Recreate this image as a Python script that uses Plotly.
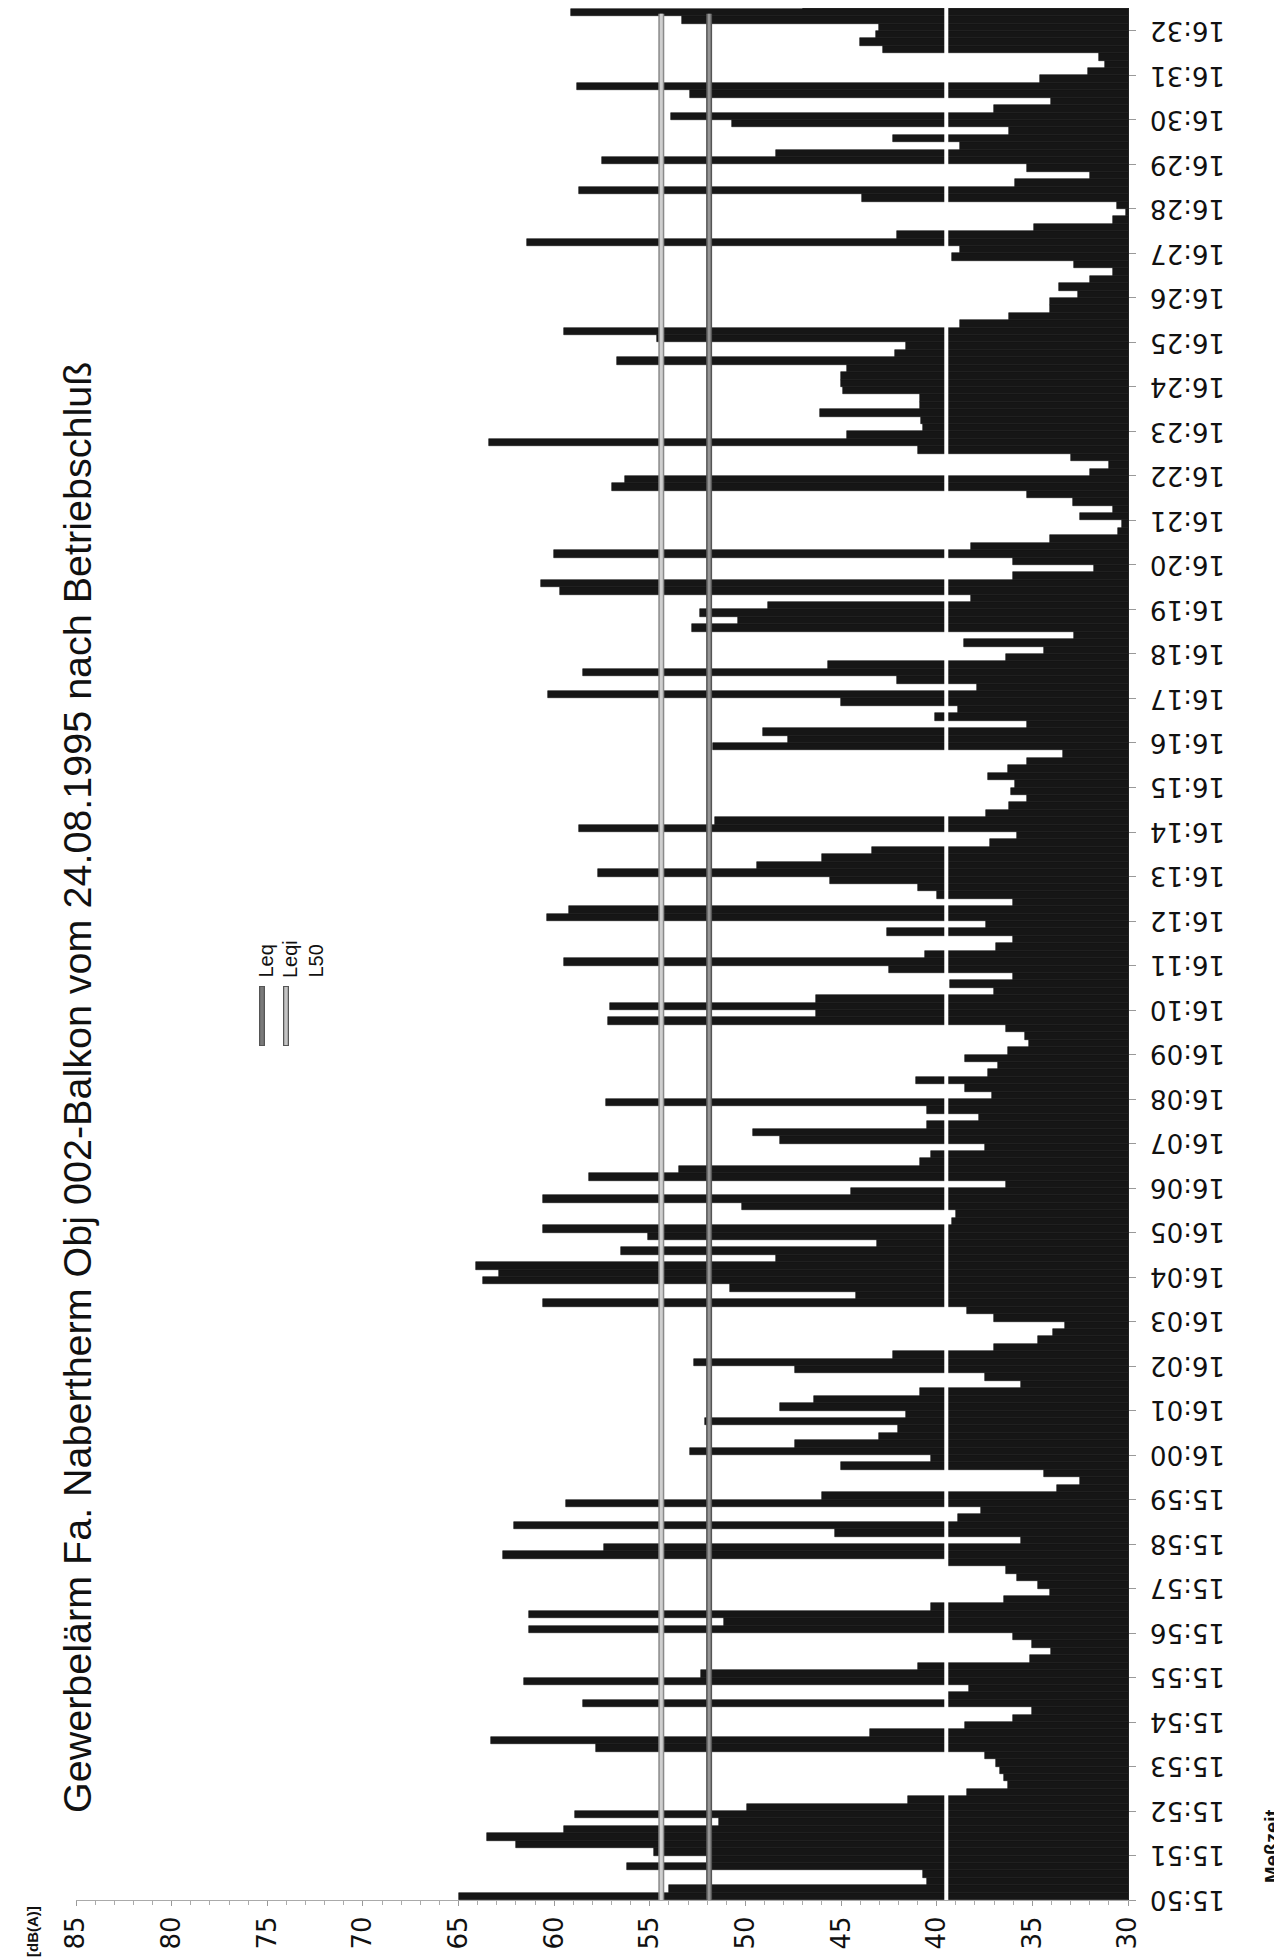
import plotly.graph_objects as go
from datetime import datetime, timedelta

# ---------------- data ----------------
title_text = "Gewerbelärm Fa. Nabertherm Obj 002-Balkon vom 24.08.1995 nach Betriebschluß"
start_time = datetime(1995, 8, 24, 15, 50, 0)
interval_s = 10  # one bar per 10 s

# Leq per 10 s interval, 15:50:00 .. 16:32:30
leq_1550 = [65.0, 54.0, 40.5, 40.7, 56.2, 52.0, 54.8, 62.0, 63.5, 59.5, 51.4, 58.9,
            49.9, 41.5, 38.4, 36.3, 36.5, 36.7, 36.9, 37.5, 57.8, 63.3, 43.5, 38.5,
            36.0, 35.0, 58.5, 39.4, 38.3, 61.6, 52.3, 41.0, 35.1, 34.0, 35.0, 36.0,
            61.3, 51.1, 61.3, 40.3, 36.5, 34.1, 34.7, 35.8, 36.4, 39.4, 62.7, 57.4,
            35.6, 45.3, 62.1, 38.9, 37.7, 59.4, 46.0, 33.7, 32.5, 34.4, 45.0, 40.3]
leq_1600 = [52.9, 47.4, 43.0, 42.0, 52.1, 41.6, 48.2, 46.4, 40.9, 35.6, 37.5, 47.4,
            52.7, 42.3, 37.0, 34.7, 33.9, 33.3, 37.0, 38.4, 60.6, 44.2, 50.8, 63.7,
            62.9, 64.1, 48.4, 56.5, 43.1, 55.1, 60.6, 39.2, 39.0, 50.2, 60.6, 44.5,
            36.4, 58.2, 53.5, 40.9, 40.3, 37.5, 48.2, 49.6, 40.5, 37.8, 40.5, 57.3,
            37.1, 38.5, 41.1, 37.3, 36.8, 38.5, 36.3, 35.2, 35.4, 36.4, 57.2, 46.3]
leq_1610 = [57.1, 46.3, 37.0, 39.3, 36.0, 42.5, 59.5, 40.6, 36.9, 36.0, 42.6, 37.4,
            60.4, 59.2, 36.0, 40.0, 41.0, 45.6, 57.7, 49.4, 46.0, 43.4, 37.2, 35.8,
            58.7, 51.6, 37.4, 36.2, 35.3, 36.1, 35.9, 37.3, 36.3, 35.3, 33.4, 51.7,
            47.8, 49.1, 35.3, 40.1, 38.9, 45.0, 60.3, 37.9, 42.1, 58.5, 45.7, 36.4,
            34.4, 38.6, 32.8, 52.8, 50.4, 52.4, 48.8, 38.2, 59.7, 60.7, 36.0, 31.8]
leq_1620 = [36.0, 60.0, 38.2, 34.1, 30.5, 30.3, 32.5, 30.8, 32.9, 35.3, 57.0, 56.3,
            32.0, 31.0, 33.0, 41.0, 63.4, 44.7, 40.7, 40.8, 46.1, 40.9, 40.9, 44.9,
            45.0, 45.0, 44.7, 56.7, 42.2, 41.6, 54.6, 59.5, 38.8, 36.2, 34.1, 34.1,
            32.6, 33.6, 32.0, 30.8, 32.8, 39.2, 38.8, 61.4, 42.1, 34.9, 30.8, 30.1,
            30.6, 43.9, 58.7, 35.9, 32.0, 35.3, 57.5, 48.4, 38.8, 42.3, 36.2, 50.7]
leq_1630 = [53.9, 37.0, 34.0, 52.9, 58.8, 34.6, 32.1, 31.2, 31.5, 42.8, 44.0, 43.2,
            43.0, 53.3, 59.1, 47.0]
leq_values = leq_1550 + leq_1600 + leq_1610 + leq_1620 + leq_1630

leq_total = 51.9    # Leq
leqi_total = 54.4   # Leqi
l50_value = 39.5    # L50

db_ticks = [30, 35, 40, 45, 50, 55, 60, 65, 70, 75, 80, 85]
minute_count = 43   # 15:50 .. 16:32
legend_names = ["Leq", "Leqi", "L50"]
legend_colors = ["#7a7a7a", "#c4c4c4", "#ffffff"]

# ---------------- derived ----------------
times = [start_time + timedelta(seconds=interval_s * (i + 0.5)) for i in range(len(leq_values))]
tick_times = [start_time + timedelta(minutes=m) for m in range(minute_count)]
tick_text = [t.strftime("%H:%M") for t in tick_times]
y_end = start_time + timedelta(seconds=42 * 60 + 31)

W, H = 1282, 1958
L, R, T, B = 68, 162, 0, 66
PW, PH = W - L - R, H - T - B


def px(xp):
    return (xp - L) / PW


def py(yp):
    return (H - B - yp) / PH


FONT = "Liberation Sans, Arial, sans-serif"
TICKFONT = "DejaVu Sans, Liberation Sans, sans-serif"

fig = go.Figure()
fig.add_trace(go.Bar(
    x=leq_values, y=times, orientation="h",
    width=interval_s * 1000,
    marker=dict(color="#161616", line=dict(width=0.6, color="#161616")),
    hoverinfo="skip",
))

shapes = []
for val, edge, core in [(leqi_total, "#8a8a8a", "#cfcfcf"), (leq_total, "#555555", "#969696")]:
    shapes.append(dict(type="line", xref="x", yref="paper", x0=val, x1=val, y0=0, y1=0.997,
                       line=dict(color=edge, width=6)))
    shapes.append(dict(type="line", xref="x", yref="paper", x0=val, x1=val, y0=0, y1=0.997,
                       line=dict(color=core, width=3)))
shapes.append(dict(type="line", xref="x", yref="paper", x0=l50_value, x1=l50_value, y0=0, y1=1,
                   line=dict(color="#ffffff", width=4)))

legend_x = [254, 278, 303]
for xp, name, col in zip(legend_x, legend_names, legend_colors):
    if name != "L50":
        shapes.append(dict(type="line", xref="paper", yref="paper",
                           x0=px(xp), x1=px(xp), y0=py(978), y1=py(1038),
                           line=dict(color="#555555", width=6)))
        shapes.append(dict(type="line", xref="paper", yref="paper",
                           x0=px(xp), x1=px(xp), y0=py(979), y1=py(1037),
                           line=dict(color=col, width=3.5)))

annotations = [
    dict(text=title_text, xref="paper", yref="paper", x=px(69), y=py(1080),
         textangle=-90, showarrow=False, xanchor="center", yanchor="middle",
         font=dict(family=FONT, size=39.5, color="#111")),
    dict(text="<b>Meßzeit</b>", xref="paper", yref="paper", x=px(1264), y=py(1838),
         textangle=-90, showarrow=False, xanchor="center", yanchor="middle",
         font=dict(family=FONT, size=20, color="#111")),
    dict(text="<b>[dB(A)]</b>", xref="paper", yref="paper", x=px(24), y=py(1924),
         textangle=-90, showarrow=False, xanchor="center", yanchor="middle",
         font=dict(family=FONT, size=15, color="#111")),
]
for xp, name in zip([257, 282, 307], legend_names):
    annotations.append(dict(text=name, xref="paper", yref="paper", x=px(xp), y=py(972),
                            textangle=-90, showarrow=False, xanchor="center", yanchor="bottom",
                            font=dict(family=FONT, size=20, color="#111")))
# time tick labels (upside down, right of the axis)
for t, lab in zip(tick_times, tick_text):
    annotations.append(dict(text=lab, xref="paper", yref="y", x=px(1140), y=t,
                            textangle=180, showarrow=False, xanchor="left", yanchor="middle",
                            font=dict(family=TICKFONT, size=26, color="#111")))

fig.update_layout(
    width=W, height=H,
    margin=dict(l=L, r=R, t=T, b=B),
    paper_bgcolor="white", plot_bgcolor="white",
    showlegend=False, bargap=0,
    shapes=shapes, annotations=annotations,
    xaxis=dict(
        range=[85, 30], tickvals=db_ticks, tickangle=-90,
        ticks="outside", ticklen=5, tickcolor="#999", tickwidth=1,
        minor=dict(ticks="outside", dtick=1, ticklen=4, tickcolor="#aaa"),
        showline=True, linecolor="#aaa", linewidth=1,
        showgrid=False, zeroline=False,
        tickfont=dict(family=TICKFONT, size=26, color="#111"),
    ),
    yaxis=dict(
        type="date", range=[start_time, y_end], side="right",
        tickvals=tick_times, showticklabels=False,
        ticks="outside", ticklen=7, tickcolor="#999",
        showline=True, linecolor="#222", linewidth=1,
        showgrid=False, zeroline=False,
    ),
)

fig.write_html("out.html")
